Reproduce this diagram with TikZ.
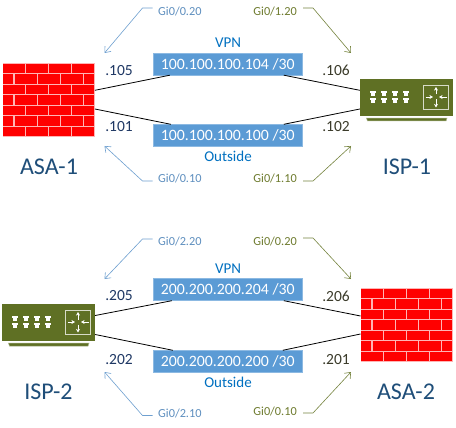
\documentclass[tikz,border=0pt]{standalone}
\usepackage{fontspec}
\setmainfont{Carlito}
\usetikzlibrary{arrows.meta,calc}
\definecolor{boxblue}{HTML}{5B9BD5}
\definecolor{textblue}{HTML}{0070C0}
\definecolor{navy}{HTML}{1F3864}
\definecolor{titleblue}{HTML}{1F4E79}
\definecolor{olive}{HTML}{5F7024}
\definecolor{oliveline}{HTML}{76843F}
\definecolor{oliveb}{HTML}{A9B48A}
\definecolor{blueline}{HTML}{6FA0D0}
\definecolor{gilabelblue}{HTML}{5E8FBF}
\definecolor{gilabelolive}{HTML}{6E7B2E}
\definecolor{darkt}{HTML}{3B3B2A}
\definecolor{mortar}{HTML}{FFB4B4}
\tikzset{
 netbox/.style={fill=boxblue,draw=boxblue!70!white,line width=.4pt,minimum width=149.5pt,minimum height=22pt,inner sep=0,text=white,font=\fontsize{15.8}{18}\selectfont},
 link/.style={draw=black,line width=.8pt},
 callb/.style={draw=blueline,line width=.6pt,-{Straight Barb[length=5pt,width=8pt,line width=.6pt]}},
 callo/.style={draw=oliveline,line width=.6pt,-{Straight Barb[length=5pt,width=8pt,line width=.6pt]}},
 gib/.style={text=gilabelblue,inner sep=0,font=\fontsize{12.3}{14}\selectfont,anchor=west},
 gio/.style={text=gilabelolive,inner sep=0,font=\fontsize{12.3}{14}\selectfont,anchor=east},
 ipl/.style={text=navy,inner sep=0,font=\fontsize{15.5}{17}\selectfont},
 ipr/.style={text=darkt,inner sep=0,font=\fontsize{15.5}{17}\selectfont},
 title/.style={text=titleblue,inner sep=0,font=\fontsize{24}{26}\selectfont},
 tag/.style={text=textblue,inner sep=0,font=\fontsize{15}{17}\selectfont},
 fwbody/.style={fill=mortar,draw=none,minimum width=92pt,minimum height=74pt,inner sep=0},
 rtbody/.style={fill=olive,draw=none,minimum width=93pt,minimum height=37pt,inner sep=0},
 swarrow/.style={draw=white,line width=.9pt,-{Stealth[length=3.6pt,width=4pt]}},
}
\newcommand{\firewall}[3]{%
 \node[fwbody] (#1) at (#2+46,#3+37) {};
 \begin{scope}[shift={(#2,#3)}]
  \foreach \r in {0,2,4,6}{
   \foreach \c in {0,1,2,3}{
    \fill[red] (\c*23+.6,\r*10.55+.6) rectangle (\c*23+22.4,\r*10.55+10.1);
   }
  }
  \foreach \r in {1,3,5}{
   \fill[red] (.6,\r*10.55+.6) rectangle (10.5,\r*10.55+10.1);
   \foreach \c in {0,1,2}{
    \fill[red] (\c*23+12,\r*10.55+.6) rectangle (\c*23+33.8,\r*10.55+10.1);
   }
   \fill[red] (81,\r*10.55+.6) rectangle (91.4,\r*10.55+10.1);
  }
 \end{scope}
}
\newcommand{\router}[3]{%
 \node[rtbody] (#1) at (#2+46.5,#3+18.5) {};
 \begin{scope}[shift={(#2,#3)}]
  \fill[olive,draw=oliveb,line width=.5pt] (6.5,39.2) -- (87,39.2) -- (86,42) -- (7.5,42) -- cycle;
  \foreach \c in {0,1,2,3}{
   \foreach \s in {0,7}{
    \fill[white] (\c*11+9.8,11.8+\s) rectangle (\c*11+16,14+\s);
    \fill[white] (\c*11+11,14+\s) rectangle (\c*11+14.8,16.6+\s);
   }
  }
  \draw[white!75!olive,line width=.8pt] (63.5,6.2) rectangle (88.6,30);
  \draw[swarrow] (76,15.5) -- (76,8);
  \draw[swarrow] (76,20.5) -- (76,28.5);
  \draw[swarrow] (65.5,18) -- (73,18);
  \draw[swarrow] (86.8,18) -- (79,18);
 \end{scope}
}
\begin{document}
\begin{tikzpicture}[x=1pt,y=-1pt]
\useasboundingbox (0,0) rectangle (456,428);
\fill[white] (0,0) rectangle (456,428);

% devices
\firewall{asaone}{2.7}{63}
\router{ispone}{360}{79}
\router{isptwo}{2}{304}
\firewall{asatwo}{360.7}{288}

% nets
\node[netbox] (vpnone) at (227.8,64) {100.100.100.104 /30};
\node[netbox] (outone) at (227.8,135.5) {100.100.100.100 /30};
\node[netbox] (vpntwo) at (227.8,289.5) {200.200.200.204 /30};
\node[netbox] (outtwo) at (227.8,361.5) {200.200.200.200 /30};

% links
\draw[link] ([yshift=9.7pt]asaone.east) -- ([xshift=-58pt]vpnone.south);
\draw[link] ([yshift=-9pt]asaone.east) -- ([xshift=-57pt]outone.north);
\draw[link] ([xshift=56pt]vpnone.south) -- ([yshift=7.2pt]ispone.west);
\draw[link] ([xshift=56pt]outone.north) -- ([yshift=-11.5pt]ispone.west);
\draw[link] ([yshift=7pt]isptwo.east) -- ([xshift=-56pt]vpntwo.south);
\draw[link] ([yshift=-12pt]isptwo.east) -- ([xshift=-55pt]outtwo.north);
\draw[link] ([xshift=56pt]vpntwo.south) -- ([yshift=9pt]asatwo.west);
\draw[link] ([xshift=55pt]outtwo.north) -- ([yshift=-9pt]asatwo.west);

% net tags
\node[tag] (tvpnone) at (228,43) {VPN};
\node[tag] (toutone) at (228,156.5) {Outside};
\node[tag] (tvpntwo) at (228,269) {VPN};
\node[tag] (touttwo) at (228,382.5) {Outside};

% addresses
\node[ipl] (a105) at (119,70.5) {.105};
\node[ipl] (a101) at (119,126.5) {.101};
\node[ipr] (a106) at (336,70.5) {.106};
\node[ipr] (a102) at (336,126.5) {.102};
\node[ipl] (a205) at (119,296) {.205};
\node[ipl] (a202) at (119,360) {.202};
\node[ipr] (a206) at (336,296) {.206};
\node[ipr] (a201) at (336,360) {.201};

% titles
\node[title] (tasaone) at (49,166.5) {ASA-1};
\node[title] (tispone) at (407,166.5) {ISP-1};
\node[title] (tisptwo) at (48.5,391.5) {ISP-2};
\node[title] (tasatwo) at (406,391.5) {ASA-2};

% callouts
\node[gib] (g1) at (158,11) {Gi0/0.20};
\node[gib] (g2) at (158,178) {Gi0/0.10};
\node[gio] (g3) at (297,11) {Gi0/1.20};
\node[gio] (g4) at (297,178) {Gi0/1.10};
\node[gib] (g5) at (158,241) {Gi0/2.20};
\node[gib] (g6) at (158,413) {Gi0/2.10};
\node[gio] (g7) at (297,241) {Gi0/0.20};
\node[gio] (g8) at (297,411) {Gi0/0.10};
\coordinate (c1) at (104.5,53);
\coordinate (c2) at (104.5,146);
\coordinate (c3) at (351,53);
\coordinate (c4) at (351,146);
\coordinate (c5) at (104.5,279);
\coordinate (c6) at (104.5,372);
\coordinate (c7) at (351,279);
\coordinate (c8) at (351,372);
\draw[callb] ([xshift=-5.5pt,yshift=3pt]g1.west) -- ++(-10,0) -- (c1);
\draw[callb] ([xshift=-5.5pt,yshift=-3pt]g2.west) -- ++(-10,0) -- (c2);
\draw[callo] ([xshift=6pt,yshift=3pt]g3.east) -- ++(10,0) -- (c3);
\draw[callo] ([xshift=6pt,yshift=-3pt]g4.east) -- ++(10,0) -- (c4);
\draw[callb] ([xshift=-5.5pt,yshift=2pt]g5.west) -- ++(-10,0) -- (c5);
\draw[callb] ([xshift=-5.5pt,yshift=-2.5pt]g6.west) -- ++(-10,0) -- (c6);
\draw[callo] ([xshift=6pt,yshift=3pt]g7.east) -- ++(10,0) -- (c7);
\draw[callo] ([xshift=6pt,yshift=-2pt]g8.east) -- ++(10,0) -- (c8);
\end{tikzpicture}
\end{document}
